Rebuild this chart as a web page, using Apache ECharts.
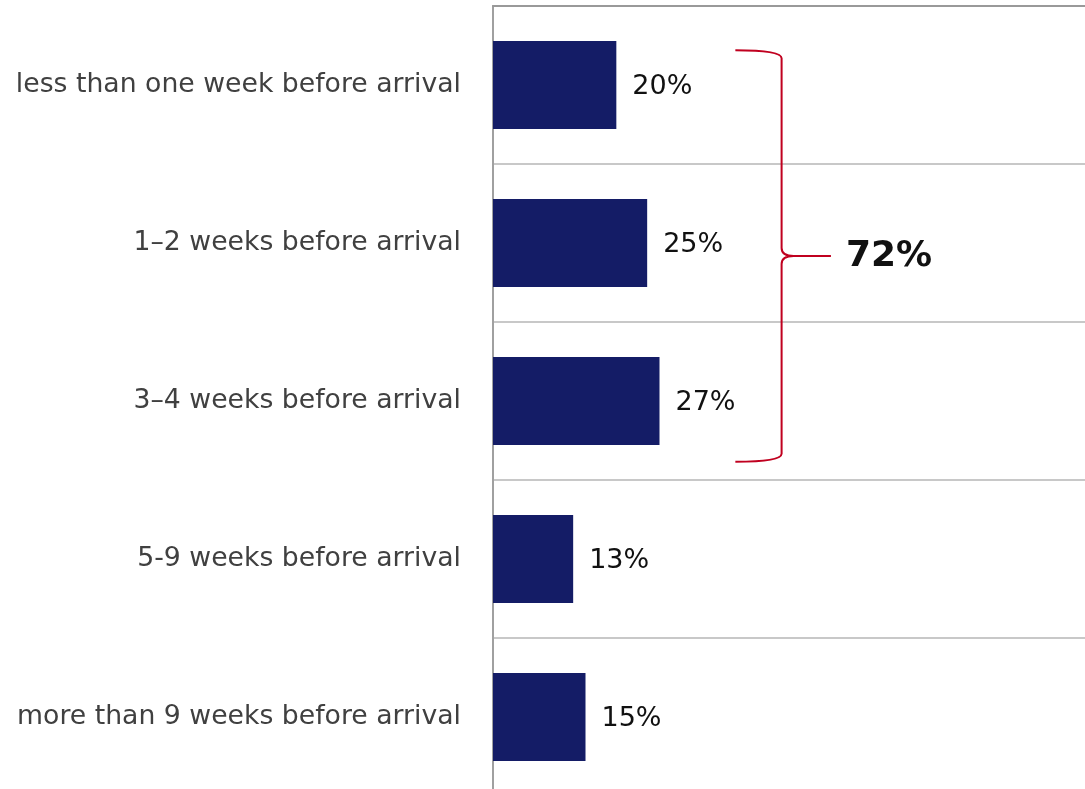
<!DOCTYPE html>
<html>
<head>
<meta charset="utf-8">
<script src="https://cdn.jsdelivr.net/npm/echarts@6/dist/echarts.min.js"></script>
<style>
html,body{margin:0;padding:0;background:#fff;}
#chart{width:1085px;height:789px;}
</style>
</head>
<body>
<div id="chart"></div>
<script>
const categories = [
  'less than one week before arrival',
  '1\u20132 weeks before arrival',
  '3\u20134 weeks before arrival',
  '5-9 weeks before arrival',
  'more than 9 weeks before arrival'
];
const values = [20, 25, 27, 13, 15];
const bracketFirst = 0;
const bracketLast = 2;
const bracketTotal = 72;

const chart = echarts.init(document.getElementById('chart'), null, {renderer: 'canvas'});
const FONT = '"DejaVu Sans", Verdana, sans-serif';

chart.setOption({
  animation: false,
  backgroundColor: '#ffffff',
  grid: {left: 493, right: 0, top: 6, height: 790, outerBoundsMode: 'none', containLabel: false},
  xAxis: {
    type: 'value', position: 'top', min: 0, max: 96,
    axisLine: {show: true, lineStyle: {color: '#999999', width: 2}},
    axisTick: {show: false}, axisLabel: {show: false}, splitLine: {show: false}
  },
  yAxis: {
    type: 'category', inverse: true, data: categories,
    axisLine: {show: true, lineStyle: {color: '#a0a0a0', width: 2}},
    axisTick: {show: false},
    axisLabel: {margin: 32, fontFamily: FONT, fontSize: 26.7, color: '#404040'},
    splitLine: {show: true, lineStyle: {color: '#c8c8c8', width: 2}}
  },
  series: [{
    type: 'bar', data: values, barWidth: 88,
    itemStyle: {color: '#141c66'},
    label: {show: true, position: 'right', distance: 16, offset: [0, 2], formatter: '{c}%',
      fontFamily: FONT, fontSize: 27, color: '#111111'}
  }, {
    type: 'custom',
    data: [[bracketFirst, bracketLast, bracketTotal]],
    renderItem: function (params, api) {
      const first = api.value(0), last = api.value(1);
      const band = api.size([0, 1])[1];
      const pTop = api.coord([39.3, first]);
      const pBot = api.coord([39.3, last]);
      const xV = api.coord([46.8, first])[0];
      const xTip = api.coord([54.8, first])[0];
      const x0 = pTop[0];
      const yT = pTop[1] - band * 0.22;
      const yB = pBot[1] + band * 0.385;
      const yM = (yT + yB) / 2;
      const r = 8;
      const d = 'M' + x0 + ' ' + yT +
        ' Q' + xV + ' ' + yT + ' ' + xV + ' ' + (yT + r) +
        ' L' + xV + ' ' + (yM - r) +
        ' Q' + xV + ' ' + yM + ' ' + (xV + 12) + ' ' + yM +
        ' L' + xTip + ' ' + yM +
        ' M' + (xV + 12) + ' ' + yM +
        ' Q' + xV + ' ' + yM + ' ' + xV + ' ' + (yM + r) +
        ' L' + xV + ' ' + (yB - r) +
        ' Q' + xV + ' ' + yB + ' ' + x0 + ' ' + yB;
      return {
        type: 'group',
        children: [{
          type: 'path', shape: {pathData: d},
          style: {fill: null, stroke: '#c0001f', lineWidth: 2}
        }, {
          type: 'text',
          style: {
            text: api.value(2) + '%', x: xTip + 15, y: yM + 1,
            verticalAlign: 'middle', align: 'left',
            font: 'bold 36px ' + FONT, fill: '#111111'
          }
        }]
      };
    }
  }]
});
</script>
</body>
</html>
